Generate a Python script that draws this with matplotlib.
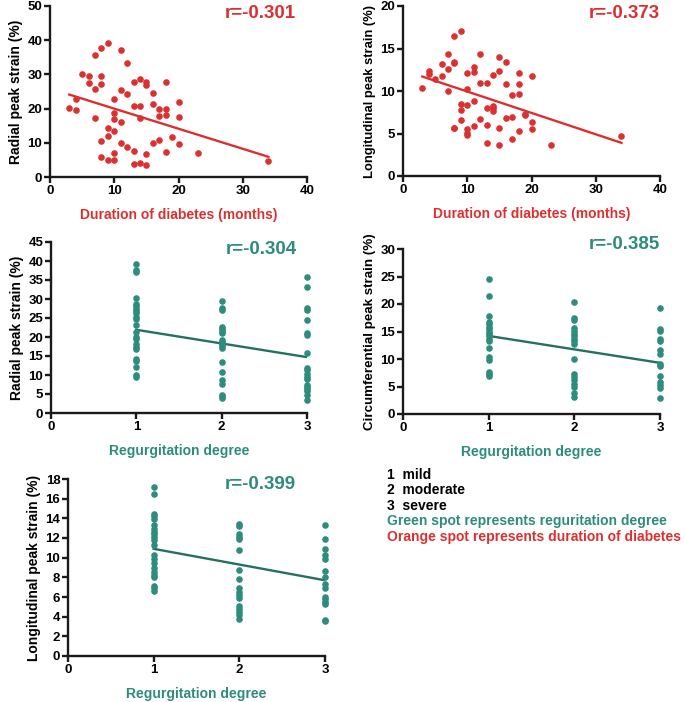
import matplotlib
import matplotlib.pyplot as plt
import numpy as np

matplotlib.use("Agg")

plt.rcParams["font.family"] = ["Liberation Sans", "DejaVu Sans"]
plt.rcParams["font.weight"] = "bold"

RED = "#dc3030"
TEAL = "#2e8c7c"
TEAL_LINE = "#25705f"

# =========================
# Datos: duración de diabetes (meses)
# =========================
dur_radial_x = [3, 4, 4, 5, 6, 6, 7, 7, 7, 8, 8, 8, 8, 8, 9, 9, 9, 9,
                10, 10, 10, 10, 10, 10, 11, 11, 11, 11, 12, 12, 12,
                13, 13, 13, 13, 14, 14, 14, 14, 15, 15, 15, 15,
                16, 16, 16, 17, 17, 17, 18, 18, 18, 18, 19, 20, 20, 20, 23, 34]
dur_radial_y = [20.2, 22.9, 19.5, 30.2, 29.4, 27.5, 35.8, 25.6, 17.3, 37.6, 29.5, 27.1, 10.4, 5.9,
                39.3, 14.3, 12.0, 4.9, 22.7, 18.6, 17.1, 13.4, 7.1, 4.9, 37.0, 25.5, 16.0, 10.0,
                33.3, 24.4, 8.7, 27.8, 20.7, 7.5, 3.9, 28.6, 20.9, 17.3, 4.2, 27.7, 27.0, 6.7, 3.5,
                24.6, 21.3, 9.8, 20.0, 17.7, 10.7, 27.7, 20.0, 18.0, 7.3, 11.7, 22.0, 17.6, 9.6,
                6.9, 4.6]
dur_radial_fit_x = [3, 34]
dur_radial_fit_y = [24.1, 5.9]

dur_long_x = [3, 4, 4, 5, 6, 6, 7, 7, 7, 8, 8, 8, 8, 8, 9, 9, 9, 9,
              10, 10, 10, 10, 10, 10, 11, 11, 11, 11, 12, 12, 12,
              13, 13, 13, 13, 14, 14, 14, 14, 15, 15, 15, 15,
              16, 16, 16, 17, 17, 17, 18, 18, 18, 18, 19, 19, 20, 20, 20, 23, 34]
dur_long_y = [10.3, 12.3, 12.0, 11.4, 13.2, 11.8, 14.3, 12.6, 10.0, 16.5, 13.4, 13.3, 5.7, 5.6,
              17.1, 8.5, 7.8, 6.6, 12.1, 10.2, 8.4, 5.5, 5.1, 4.8, 12.8, 12.2, 8.8, 5.9,
              14.3, 10.9, 6.7, 10.9, 8.0, 6.0, 3.9, 11.9, 8.2, 8.0, 7.7, 14.0, 12.4, 5.7, 3.6,
              13.4, 10.8, 6.8, 9.5, 7.0, 4.3, 12.1, 10.8, 9.6, 5.3, 7.3, 7.2, 11.8, 6.3, 5.5,
              3.7, 4.7]
dur_long_fit_x = [3, 34]
dur_long_fit_y = [11.7, 3.9]

# =========================
# Datos: grado de regurgitación
# =========================
reg_radial = {
    1: [39.2, 37.6, 37.2, 30.2, 28.7, 28.1, 27.5, 26.8, 26.2, 25.3, 24.7, 23.2, 21.2, 20.0,
        19.5, 18.1, 17.5, 16.9, 14.2, 13.8, 12.2, 10.1, 9.6],
    2: [29.5, 27.7, 27.1, 22.7, 22.1, 21.6, 21.0, 19.2, 18.8, 18.1, 17.7, 17.0, 13.5, 10.7,
        8.6, 7.7, 4.8, 4.4, 3.9],
    3: [35.8, 33.2, 27.7, 27.1, 24.5, 21.0, 20.5, 15.9, 11.8, 11.2, 10.2, 9.6, 9.0, 7.4,
        6.8, 6.3, 5.7, 4.8, 3.5],
}
reg_radial_fit_y = [21.9, 14.7]

reg_circ = {
    1: [24.6, 21.5, 17.9, 16.8, 16.3, 15.9, 15.4, 15.0, 14.6, 14.1, 13.7, 13.2, 12.0, 10.3,
        9.9, 7.7, 7.3, 7.0],
    2: [20.4, 17.5, 17.1, 15.7, 15.1, 14.6, 14.1, 13.7, 13.2, 12.7, 10.0, 7.3, 6.8, 6.2,
        5.5, 5.0, 3.9, 3.1],
    3: [19.2, 15.5, 15.1, 13.7, 13.2, 11.6, 10.9, 9.1, 8.7, 7.0, 5.8, 5.2, 4.7, 2.9],
}
reg_circ_fit_y = [14.2, 9.3]

reg_long = {
    1: [17.2, 16.5, 14.4, 14.2, 13.9, 13.3, 12.9, 12.6, 12.4, 12.1, 11.8, 11.3, 10.3, 9.9,
        9.5, 8.9, 8.5, 8.2, 8.0, 7.1, 6.9, 6.6],
    2: [13.4, 13.2, 12.4, 12.1, 11.9, 10.8, 8.7, 7.8, 6.9, 6.5, 6.2, 5.9, 5.1, 4.8, 4.5,
        4.2, 3.8],
    3: [13.3, 11.9, 10.9, 10.3, 9.9, 8.6, 8.0, 7.3, 6.9, 6.0, 5.8, 5.5, 5.3, 3.7, 3.6],
}
reg_long_fit_y = [10.9, 7.7]
reg_fit_x = [1, 3]

legend_lines = ["1  mild", "2  moderate", "3  severe",
                "Green spot represents reguritation degree",
                "Orange spot represents duration of diabetes"]
legend_colors = ["black", "black", "black", TEAL, RED]

# =========================
# Figura
# =========================
W, H = 685, 702
fig = plt.figure(figsize=(W / 100, H / 100), dpi=100)


def make_ax(left, top, width, height):
    # posición en píxeles -> fracción de figura
    return fig.add_axes([left / W, (H - top - height) / H, width / W, height / H])


def style(ax, xmax, ymax, ystep, xticks, ylabel, xlabel, color, ysize=10):
    for s in ["top", "right"]:
        ax.spines[s].set_visible(False)
    for s in ["left", "bottom"]:
        ax.spines[s].set_linewidth(1.7)
        ax.spines[s].set_color("#1a1a1a")
    ax.set_xlim(0, xmax)
    ax.set_ylim(0, ymax)
    ax.set_xticks(xticks)
    ax.set_yticks(np.arange(0, ymax + 0.1, ystep))
    ax.tick_params(direction="out", length=4, width=1.7, labelsize=9.5, pad=1.5,
                   color="#1a1a1a")
    for lab in ax.get_xticklabels() + ax.get_yticklabels():
        lab.set_fontweight("bold")
    ax.set_ylabel(ylabel, fontsize=ysize, fontweight="bold", labelpad=3)
    ax.set_xlabel(xlabel, fontsize=10, fontweight="bold", color=color, labelpad=8)


def r_text(ax, x, y, txt, color):
    ax.text(x, y, txt, transform=ax.transAxes, ha="center", va="center",
            fontsize=13.5, fontweight="bold", color=color)


# Panel 1
ax1 = make_ax(50, 6, 257, 171)
ax1.scatter(dur_radial_x, dur_radial_y, s=14, color=RED, clip_on=False, zorder=3)
ax1.plot(dur_radial_fit_x, dur_radial_fit_y, color=RED, lw=1.7)
style(ax1, 40, 50, 10, [0, 10, 20, 30, 40], "Radial peak strain (%)",
      "Duration of diabetes (months)", RED)
r_text(ax1, 0.82, 0.955, "r=-0.301", RED)

# Panel 2
ax2 = make_ax(403, 6, 257, 170)
ax2.scatter(dur_long_x, dur_long_y, s=14, color=RED, clip_on=False, zorder=3)
ax2.plot(dur_long_fit_x, dur_long_fit_y, color=RED, lw=1.7)
style(ax2, 40, 20, 5, [0, 10, 20, 30, 40], "Longitudinal peak strain (%)",
      "Duration of diabetes (months)", RED, ysize=9.4)
r_text(ax2, 0.86, 0.955, "r=-0.373", RED)


def reg_panel(ax, data, fit_y):
    for k, vals in data.items():
        ax.scatter([k] * len(vals), vals, s=14, color=TEAL, clip_on=False, zorder=3)
    ax.plot(reg_fit_x, fit_y, color=TEAL_LINE, lw=1.7)


# Panel 3
ax3 = make_ax(51, 242, 256, 171)
reg_panel(ax3, reg_radial, reg_radial_fit_y)
style(ax3, 3, 45, 5, [0, 1, 2, 3], "Radial peak strain (%)", "Regurgitation degree", TEAL)
r_text(ax3, 0.82, 0.955, "r=-0.304", TEAL)

# Panel 4
ax4 = make_ax(403, 249, 257, 165)
reg_panel(ax4, reg_circ, reg_circ_fit_y)
style(ax4, 3, 30, 5, [0, 1, 2, 3], "Circumferential peak strain (%)", "Regurgitation degree",
      TEAL, ysize=9.6)
r_text(ax4, 0.86, 1.03, "r=-0.385", TEAL)

# Panel 5
ax5 = make_ax(68, 479, 257, 177)
reg_panel(ax5, reg_long, reg_long_fit_y)
style(ax5, 3, 18, 2, [0, 1, 2, 3], "Longitudinal peak strain (%)", "Regurgitation degree", TEAL)
r_text(ax5, 0.75, 0.97, "r=-0.399", TEAL)

# Leyenda de texto
for i, (txt, c) in enumerate(zip(legend_lines, legend_colors)):
    fig.text(387 / W, 1 - (475 + i * 15.5) / H, txt, color=c, fontsize=10,
             fontweight="bold", va="center", ha="left")

fig.savefig("out.png", dpi=100)
